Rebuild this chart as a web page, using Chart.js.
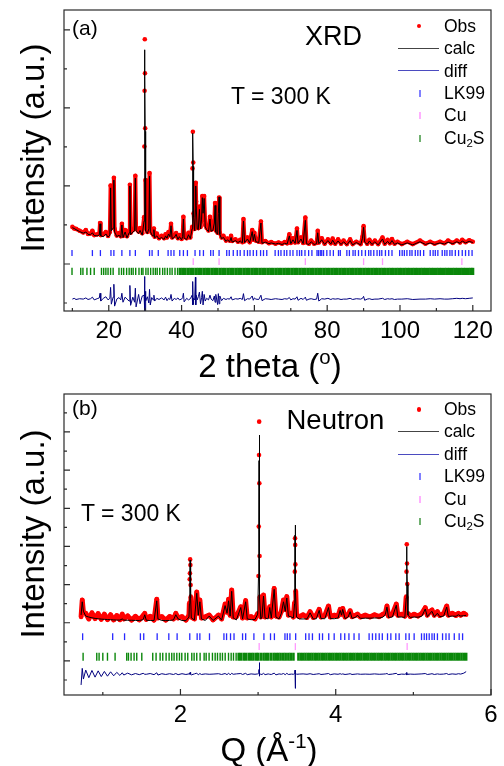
<!DOCTYPE html>
<html lang="en">
<head>
<meta charset="UTF-8">
<title>LK99 - XRD and neutron refinement, T = 300 K</title>
<script src="https://cdn.jsdelivr.net/npm/chart.js"></script>
<style>
  body { margin: 0; background: #fff; }
  #painel { position: relative; width: 504px; height: 766px; overflow: hidden;
    font-family: Arial, "Liberation Sans", sans-serif; color: #000; }
  #painel canvas { position: absolute; left: 0; }
  .t { position: absolute; line-height: 1; white-space: nowrap; }
  .eixo { font-size: 33px; }
  .centro { transform: translateX(-50%); }
  .rot { transform: translate(-50%, -50%) rotate(-90deg); }
  .leg { position: absolute; left: 398px; width: 104px; height: 18px; font-size: 17.5px; line-height: 1; white-space: nowrap; }
  .leg .lbl { position: absolute; left: 46px; top: 0; }
  .sym { position: absolute; display: block; }
  .ponto { left: 19px; top: 6.3px; width: 4.4px; height: 4.4px; border-radius: 50%; background-color: #f00; }
  .linha { left: 0; top: 7.9px; width: 41px; height: 0; border-top: 1.2px solid; }
  .risco { left: 21px; top: 5px; width: 1.5px; height: 7px; }
  sub { font-size: 0.65em; vertical-align: -0.3em; line-height: 0; }
  sup { font-size: 0.62em; vertical-align: 0.62em; line-height: 0; }
</style>
</head>
<body>
<div id="painel">
  <canvas id="graficoXrd" width="504" height="380" style="top:0"></canvas>
  <canvas id="graficoNeutron" width="504" height="386" style="top:380px"></canvas>

  <!-- painel (a) -->
  <div class="t" style="left:72px; top:17px; font-size:21px">(a)</div>
  <div class="t" style="left:305px; top:23px; font-size:27px">XRD</div>
  <div class="t" style="left:231px; top:85px; font-size:23px">T = 300 K</div>
  <div class="t eixo rot" style="left:32px; top:147.5px">Intensity (a.u.)</div>
  <div class="t eixo centro" style="left:270px; top:348.5px">2 theta (<sup>o</sup>)</div>

  <div class="leg" style="top:17.7px"><span class="sym ponto"></span><span class="lbl">Obs</span></div>
  <div class="leg" style="top:40.1px"><span class="sym linha" style="border-color:#444"></span><span class="lbl">calc</span></div>
  <div class="leg" style="top:62.5px"><span class="sym linha" style="border-color:#4b4bc0"></span><span class="lbl">diff</span></div>
  <div class="leg" style="top:84.9px"><span class="sym risco" style="background-color:#8080ff"></span><span class="lbl">LK99</span></div>
  <div class="leg" style="top:107.3px"><span class="sym risco" style="background-color:#ffb0ff"></span><span class="lbl">Cu</span></div>
  <div class="leg" style="top:129.7px"><span class="sym risco" style="background-color:#70b070"></span><span class="lbl">Cu<sub>2</sub>S</span></div>

  <!-- painel (b) -->
  <div class="t" style="left:72px; top:397px; font-size:21px">(b)</div>
  <div class="t" style="left:286.5px; top:405.5px; font-size:27.5px">Neutron</div>
  <div class="t" style="left:81px; top:502px; font-size:23px">T = 300 K</div>
  <div class="t eixo rot" style="left:32px; top:533.5px">Intensity (a.u.)</div>
  <div class="t eixo centro" style="left:269px; top:732.5px">Q (Å<sup>-1</sup>)</div>

  <div class="leg" style="top:401px"><span class="sym ponto"></span><span class="lbl">Obs</span></div>
  <div class="leg" style="top:423.4px"><span class="sym linha" style="border-color:#444"></span><span class="lbl">calc</span></div>
  <div class="leg" style="top:445.8px"><span class="sym linha" style="border-color:#4b4bc0"></span><span class="lbl">diff</span></div>
  <div class="leg" style="top:468.2px"><span class="sym risco" style="background-color:#8080ff"></span><span class="lbl">LK99</span></div>
  <div class="leg" style="top:490.6px"><span class="sym risco" style="background-color:#ffb0ff"></span><span class="lbl">Cu</span></div>
  <div class="leg" style="top:513px"><span class="sym risco" style="background-color:#70b070"></span><span class="lbl">Cu<sub>2</sub>S</span></div>
</div>

<script>
  // ---- (a) XRD: 2 theta (deg), intensities in arbitrary offset units ----
  const xrdTheta = [
    10.0, 10.5, 11.0, 12.0, 13.0, 13.7, 14.3, 15.0, 15.5, 16.0,
    16.8, 17.4, 17.6, 17.8, 18.5, 19.2, 19.8, 20.3, 20.5, 20.7,
    21.2, 21.4, 21.6, 22.2, 22.8, 23.3, 23.6, 23.9, 24.5, 25.0,
    25.6, 25.8, 26.0, 26.6, 27.1, 27.3, 27.5, 28.2, 28.6, 29.2,
    29.7, 29.78, 29.84, 29.9, 29.95, 30.0, 30.06, 30.2, 30.6, 31.0,
    31.2, 31.4, 31.8, 32.2, 32.4, 32.6, 33.2, 33.8, 34.5, 35.2,
    35.6, 36.0, 36.4, 36.8, 37.1, 37.4, 38.0, 38.5, 39.0, 39.4,
    40.0, 40.3, 40.5, 40.7, 41.4, 41.9, 42.4, 42.9, 43.0, 43.1,
    43.2, 43.3, 43.6, 43.8, 43.9, 44.0, 44.3, 44.6, 44.9, 45.2,
    45.5, 45.7, 45.9, 46.2, 46.5, 46.9, 47.4, 47.8, 48.1, 48.6,
    49.0, 49.2, 49.4, 49.9, 50.1, 50.3, 50.5, 51.0, 51.5, 52.2,
    52.6, 53.2, 53.6, 53.9, 54.8, 55.5, 56.1, 56.7, 57.0, 57.3,
    58.1, 58.7, 59.4, 59.7, 60.0, 60.4, 61.2, 61.8, 62.1, 63.0,
    64.0, 64.6, 65.8, 66.6, 67.6, 68.3, 69.0, 69.6, 70.0, 70.6,
    71.2, 71.7, 72.0, 72.8, 73.4, 74.0, 74.3, 75.0, 75.6, 76.4,
    77.1, 77.4, 77.7, 78.5, 79.3, 80.2, 81.0, 81.5, 82.2, 83.0,
    83.8, 84.5, 85.4, 86.3, 87.0, 88.0, 89.2, 89.7, 90.0, 90.3,
    91.0, 91.6, 92.3, 93.1, 94.0, 95.2, 95.8, 96.6, 97.2, 97.8,
    98.5, 99.3, 100.5, 102.0, 103.5, 105.5, 107.0, 108.3, 109.5, 111.0,
    112.2, 113.2, 114.5, 115.6, 116.5, 117.1, 118.0, 119.0, 120.0
  ];
  const xrdObs = [
    1.95, 1.91, 1.90, 1.85, 1.81, 1.87, 1.77, 1.78, 1.85, 1.74,
    1.76, 1.78, 2.05, 1.74, 1.76, 1.82, 1.72, 1.82, 3.01, 1.95,
    2.02, 3.21, 1.90, 1.73, 1.79, 1.71, 2.03, 1.72, 1.87, 1.71,
    1.86, 3.03, 1.80, 1.87, 1.92, 3.26, 1.90, 1.83, 1.92, 1.79,
    2.20, 4.01, 5.44, 6.76, 5.89, 4.48, 3.15, 1.92, 1.82, 1.95,
    3.33, 1.90, 1.80, 1.75, 1.91, 1.70, 1.78, 1.66, 1.72, 1.66,
    1.76, 1.68, 1.82, 1.74, 2.03, 1.68, 1.72, 1.79, 1.66, 1.74,
    1.64, 1.74, 2.21, 1.70, 1.66, 1.80, 1.68, 1.95, 3.45, 4.39,
    3.60, 2.30, 1.90, 2.50, 3.08, 2.60, 1.95, 1.92, 2.47, 1.95,
    2.20, 2.74, 2.40, 2.74, 2.00, 1.92, 1.86, 2.21, 1.88, 1.90,
    2.10, 2.56, 1.86, 1.80, 2.20, 2.70, 1.80, 1.68, 1.72, 1.60,
    1.65, 1.60, 1.72, 1.59, 1.63, 1.57, 1.62, 1.56, 2.15, 1.58,
    1.68, 1.56, 1.87, 1.62, 1.80, 1.60, 1.57, 2.09, 1.56, 1.59,
    1.53, 1.56, 1.52, 1.55, 1.52, 1.56, 1.53, 1.76, 1.54, 1.66,
    1.55, 1.91, 1.56, 1.68, 1.54, 2.19, 1.55, 1.52, 1.60, 1.52,
    1.54, 1.85, 1.55, 1.66, 1.52, 1.63, 1.53, 1.65, 1.52, 1.63,
    1.52, 1.60, 1.51, 1.63, 1.51, 1.57, 1.51, 1.70, 1.97, 1.60,
    1.52, 1.62, 1.52, 1.60, 1.51, 1.68, 1.52, 1.62, 1.53, 1.64,
    1.52, 1.57, 1.51, 1.57, 1.51, 1.60, 1.52, 1.57, 1.52, 1.57,
    1.53, 1.60, 1.54, 1.60, 1.55, 1.62, 1.56, 1.61, 1.57
  ];
  const xrdCalc = [
    1.93, 1.91, 1.88, 1.83, 1.79, 1.82, 1.76, 1.75, 1.80, 1.73,
    1.72, 1.74, 2.03, 1.72, 1.70, 1.77, 1.69, 1.74, 2.95, 1.85,
    1.92, 3.15, 1.82, 1.70, 1.74, 1.68, 2.00, 1.68, 1.82, 1.67,
    1.80, 3.00, 1.75, 1.82, 1.85, 3.20, 1.85, 1.78, 1.86, 1.74,
    2.10, 3.90, 5.30, 6.49, 5.80, 4.40, 3.10, 1.85, 1.78, 1.90,
    3.25, 1.84, 1.75, 1.72, 1.88, 1.67, 1.72, 1.64, 1.68, 1.63,
    1.72, 1.66, 1.77, 1.70, 1.98, 1.65, 1.68, 1.76, 1.63, 1.70,
    1.62, 1.70, 2.15, 1.66, 1.63, 1.75, 1.65, 1.90, 3.40, 4.35,
    3.50, 2.20, 1.85, 2.40, 3.00, 2.50, 1.90, 1.88, 2.40, 1.90,
    2.15, 2.70, 2.30, 2.68, 1.95, 1.88, 1.83, 2.15, 1.84, 1.86,
    2.05, 2.50, 1.82, 1.76, 2.30, 2.72, 1.76, 1.65, 1.68, 1.58,
    1.62, 1.57, 1.68, 1.56, 1.60, 1.55, 1.59, 1.54, 2.10, 1.55,
    1.64, 1.54, 1.83, 1.60, 1.76, 1.57, 1.55, 2.05, 1.53, 1.56,
    1.52, 1.54, 1.51, 1.53, 1.50, 1.53, 1.51, 1.72, 1.52, 1.62,
    1.53, 1.86, 1.53, 1.64, 1.52, 2.12, 1.52, 1.50, 1.57, 1.50,
    1.52, 1.80, 1.52, 1.62, 1.50, 1.60, 1.51, 1.61, 1.50, 1.59,
    1.50, 1.57, 1.49, 1.60, 1.49, 1.55, 1.49, 1.66, 1.94, 1.56,
    1.50, 1.59, 1.50, 1.57, 1.49, 1.64, 1.50, 1.58, 1.51, 1.60,
    1.50, 1.54, 1.49, 1.54, 1.49, 1.57, 1.50, 1.54, 1.50, 1.54,
    1.51, 1.56, 1.52, 1.57, 1.53, 1.59, 1.54, 1.58, 1.55
  ];
  const xrdDiff = [
    0.10, 0.12, 0.09, 0.11, 0.10, 0.13, 0.09, 0.11, 0.15, 0.08,
    0.11, 0.13, 0.25, 0.05, 0.12, 0.16, 0.08, 0.12, 0.40, -0.03,
    0.15, 0.48, -0.08, 0.10, 0.14, 0.08, 0.25, 0.02, 0.15, 0.10,
    0.05, 0.45, -0.06, 0.15, 0.02, 0.38, -0.10, 0.22, -0.02, 0.18,
    0.20, -0.10, 0.40, 0.68, -0.20, -0.25, 0.30, 0.05, 0.16, 0.00,
    0.35, -0.05, 0.14, 0.08, 0.20, 0.05, 0.12, 0.09, 0.13, 0.08,
    0.15, 0.06, 0.12, 0.09, 0.22, 0.05, 0.12, 0.09, 0.13, 0.08,
    0.10, 0.14, 0.25, 0.03, 0.12, 0.08, 0.11, 0.20, -0.05, 0.55,
    -0.04, 0.12, 0.08, 0.66, -0.05, 0.20, 0.08, 0.16, 0.28, -0.02,
    0.14, 0.30, -0.05, 0.22, 0.05, 0.12, 0.08, 0.20, 0.10, 0.06,
    0.18, 0.02, 0.22, -0.04, 0.24, -0.02, 0.18, 0.06, 0.12, 0.09,
    0.11, 0.10, 0.16, 0.08, 0.11, 0.10, 0.12, 0.09, 0.24, 0.06,
    0.11, 0.10, 0.18, 0.07, 0.13, 0.10, 0.09, 0.20, 0.06, 0.11,
    0.10, 0.09, 0.11, 0.10, 0.09, 0.11, 0.10, 0.14, 0.08, 0.11,
    0.10, 0.16, 0.07, 0.12, 0.09, 0.15, 0.07, 0.10, 0.11, 0.09,
    0.10, 0.25, 0.05, 0.11, 0.10, 0.12, 0.09, 0.11, 0.10, 0.11,
    0.09, 0.10, 0.10, 0.12, 0.09, 0.11, 0.10, 0.12, 0.17, 0.07,
    0.10, 0.11, 0.09, 0.10, 0.10, 0.12, 0.09, 0.11, 0.10, 0.11,
    0.09, 0.10, 0.10, 0.11, 0.09, 0.10, 0.10, 0.11, 0.10, 0.11,
    0.10, 0.10, 0.11, 0.12, 0.11, 0.12, 0.11, 0.12, 0.13
  ];
  // reflection markers (2 theta)
  const xrdLk99 = [
    9.9, 15.5, 17.7, 20.6, 21.4, 23.6, 25.8, 27.3, 31.2, 31.9, 33.6, 36.3, 37.1, 37.9, 39.5,
    40.5, 41.6, 43.7, 45.0, 46.0, 48.0, 48.7, 50.3, 52.4, 53.1, 54.2, 55.3, 56.1, 57.2, 58.1,
    58.8, 59.7, 60.6, 61.7, 62.5, 63.4, 65.7, 66.6, 67.3, 68.2, 68.9, 69.8, 70.6, 71.7, 72.4,
    73.0, 73.9, 74.9, 75.8, 77.2, 77.6, 78.1, 78.5, 79.0, 79.9, 80.8, 81.7, 83.1, 83.6, 85.4,
    86.1, 87.1, 87.7, 88.6, 89.5, 90.5, 91.4, 92.0, 92.8, 93.7, 94.4, 95.0, 96.0, 96.9, 97.8,
    99.9, 100.6, 101.2, 101.9, 102.7, 103.3, 104.2, 104.9, 105.6, 106.5, 108.3, 109.1, 109.7,
    110.4, 111.6, 112.3, 112.9, 113.7, 114.3, 115.2, 116.1, 117.1, 118.0, 118.9, 119.8
  ];
  const xrdCu = [43.2, 50.3, 74.0, 90.0, 95.2, 117.0];
  const xrdCu2s = [
    9.9, 12.3, 12.9, 14.0, 15.0, 16.0, 18.0, 18.6, 19.2, 19.8, 20.5, 21.2, 22.8, 23.5, 24.1,
    24.9, 25.6, 26.2, 26.7, 27.4, 28.3, 29.0, 29.4, 30.2, 30.8, 31.5, 32.2, 32.8, 33.3, 34.0,
    34.8, 35.4, 36.1, 36.8, 37.4, 38.2, 38.9,
    39.6, 40.3, 41.0, 41.8, 42.5, 43.2, 44.0, 44.7, 45.4, 46.2, 46.9, 47.6, 48.4, 49.1, 49.8,
    50.6, 51.3, 52.0, 52.8, 53.5, 54.2, 55.0, 55.7, 56.4, 57.2, 57.9, 58.6, 59.4, 60.1, 60.8,
    61.6, 62.3, 63.0, 63.8, 64.5, 65.2, 66.0, 66.7, 67.4, 68.2, 68.9, 69.6, 70.4, 71.1, 71.8,
    72.6, 73.3, 74.0, 74.8, 75.5, 76.2, 77.0, 77.7, 78.4, 79.2, 79.9, 80.6, 81.4, 82.1, 82.8,
    83.6, 84.3, 85.0, 85.8, 86.5, 87.2, 88.0, 88.7, 89.4, 90.2, 90.9, 91.6, 92.4, 93.1, 93.8,
    94.6, 95.3, 96.0, 96.8, 97.5, 98.2, 99.0, 99.7, 100.4, 101.2, 101.9, 102.6, 103.4, 104.1,
    104.8, 105.6, 106.3, 107.0, 107.8, 108.5, 109.2, 110.0, 110.7, 111.4, 112.2, 112.9, 113.6,
    114.4, 115.1, 115.8, 116.6, 117.3, 118.0, 118.8, 119.5, 120.0
  ];
  const xrdTicks = [10, 20, 30, 40, 50, 60, 70, 80, 90, 100, 110, 120];
  const xrdTickLabels = [20, 40, 60, 80, 100, 120];
  const xrdYTicks = [0, 1, 2, 3, 4, 5, 6, 7];

  // ---- (b) Neutron: Q (1/A) ----
  const neuQ = [
    0.72, 0.735, 0.75, 0.78, 0.82, 0.86, 0.90, 0.94, 0.98, 1.02,
    1.06, 1.10, 1.14, 1.18, 1.22, 1.25, 1.27, 1.32, 1.37, 1.42,
    1.47, 1.52, 1.54, 1.56, 1.61, 1.66, 1.695, 1.71, 1.76, 1.81,
    1.86, 1.91, 1.94, 1.97, 2.02, 2.07, 2.11, 2.115, 2.119, 2.122,
    2.125, 2.128, 2.131, 2.134, 2.14, 2.18, 2.21, 2.23, 2.25, 2.27,
    2.32, 2.37, 2.42, 2.49, 2.53, 2.575, 2.60, 2.62, 2.64, 2.66,
    2.68, 2.72, 2.777, 2.80, 2.84, 2.86, 2.91, 2.96, 2.995, 3.005,
    3.009, 3.012, 3.014, 3.016, 3.019, 3.024, 3.035, 3.05, 3.07, 3.09,
    3.13, 3.15, 3.17, 3.207, 3.23, 3.27, 3.30, 3.327, 3.35, 3.37,
    3.39, 3.43, 3.455, 3.470, 3.473, 3.476, 3.478, 3.480, 3.484, 3.495,
    3.53, 3.58, 3.63, 3.67, 3.71, 3.75, 3.787, 3.81, 3.86, 3.907,
    3.93, 3.98, 4.03, 4.057, 4.075, 4.09, 4.12, 4.16, 4.186, 4.21,
    4.26, 4.28, 4.32, 4.38, 4.44, 4.50, 4.56, 4.61, 4.64, 4.66,
    4.68, 4.73, 4.78, 4.80, 4.85, 4.89, 4.908, 4.912, 4.915, 4.918,
    4.922, 4.93, 4.96, 5.01, 5.06, 5.11, 5.153, 5.18, 5.215, 5.24,
    5.27, 5.31, 5.34, 5.39, 5.43, 5.45, 5.50, 5.55, 5.58, 5.61,
    5.65, 5.68
  ];
  const neuObs = [
    3.30, 4.19, 3.55, 3.50, 3.20, 3.52, 3.22, 3.48, 3.18, 3.45,
    3.17, 3.42, 3.15, 3.38, 3.16, 3.45, 3.20, 3.36, 3.14, 3.34,
    3.15, 3.38, 3.49, 3.18, 3.34, 3.14, 4.23, 3.25, 3.32, 3.14,
    3.33, 3.20, 3.49, 3.25, 3.32, 3.14, 3.40, 4.05, 5.28, 5.59,
    6.32, 6.03, 4.98, 4.37, 3.30, 3.20, 4.61, 3.50, 4.19, 3.25,
    3.31, 3.40, 3.15, 3.40, 3.20, 3.98, 3.55, 4.23, 3.40, 4.72,
    3.30, 3.32, 3.84, 3.25, 4.16, 3.25, 3.32, 3.20, 3.50, 5.45,
    8.04, 11.79, 13.54, 10.31, 6.50, 4.37, 3.30, 3.40, 4.45, 3.30,
    3.38, 3.84, 3.30, 4.80, 3.35, 3.30, 3.60, 4.19, 3.70, 4.37,
    3.40, 3.50, 3.30, 4.07, 5.68, 7.43, 7.08, 6.06, 4.68, 3.40,
    3.32, 3.42, 3.28, 3.58, 3.28, 3.40, 3.70, 3.30, 3.38, 3.88,
    3.30, 3.40, 3.35, 3.70, 3.45, 3.75, 3.30, 3.42, 3.63, 3.32,
    3.40, 3.45, 3.30, 3.40, 3.30, 3.42, 3.32, 3.45, 3.50, 3.88,
    3.35, 3.45, 3.98, 3.40, 3.45, 3.35, 4.37, 5.68, 7.11, 6.11,
    5.03, 3.50, 3.33, 3.45, 3.35, 3.50, 3.79, 3.40, 3.60, 3.67,
    3.40, 3.58, 3.38, 3.48, 3.88, 3.40, 3.50, 3.38, 3.49, 3.40,
    3.50, 3.42
  ];
  const neuCalc = [
    3.41, 4.10, 3.60, 3.35, 3.30, 3.26, 3.23, 3.21, 3.19, 3.18,
    3.17, 3.16, 3.15, 3.14, 3.14, 3.20, 3.14, 3.13, 3.13, 3.12,
    3.12, 3.16, 3.42, 3.13, 3.12, 3.12, 4.15, 3.20, 3.12, 3.11,
    3.12, 3.15, 3.42, 3.20, 3.12, 3.11, 3.30, 4.00, 5.20, 5.60,
    6.29, 6.00, 4.90, 4.30, 3.25, 3.15, 4.55, 3.40, 4.10, 3.20,
    3.12, 3.35, 3.12, 3.35, 3.14, 3.90, 3.50, 4.15, 3.35, 4.65,
    3.25, 3.15, 3.80, 3.20, 4.10, 3.20, 3.16, 3.17, 3.45, 5.40,
    8.00, 11.50, 12.84, 10.50, 6.60, 4.30, 3.20, 3.30, 4.40, 3.25,
    3.20, 3.80, 3.25, 4.75, 3.30, 3.20, 3.50, 4.10, 3.60, 4.30,
    3.35, 3.30, 3.25, 4.00, 5.60, 7.60, 8.12, 6.20, 4.60, 3.30,
    3.20, 3.20, 3.20, 3.52, 3.20, 3.21, 3.65, 3.22, 3.21, 3.80,
    3.22, 3.21, 3.25, 3.65, 3.40, 3.70, 3.22, 3.30, 3.58, 3.23,
    3.30, 3.40, 3.23, 3.24, 3.24, 3.25, 3.25, 3.30, 3.45, 3.82,
    3.28, 3.30, 3.92, 3.30, 3.30, 3.28, 4.30, 5.60, 6.99, 6.20,
    5.00, 3.40, 3.28, 3.30, 3.29, 3.35, 3.72, 3.32, 3.50, 3.60,
    3.32, 3.50, 3.32, 3.35, 3.82, 3.33, 3.35, 3.34, 3.42, 3.35,
    3.37, 3.39
  ];
  const neuDiff = [
    -0.26, 0.61, 0.05, 0.52, 0.12, 0.50, 0.15, 0.48, 0.18, 0.45,
    0.20, 0.43, 0.22, 0.40, 0.24, 0.38, 0.26, 0.36, 0.27, 0.34,
    0.28, 0.35, 0.30, 0.30, 0.34, 0.28, 0.38, 0.26, 0.33, 0.29,
    0.33, 0.29, 0.34, 0.28, 0.33, 0.29, 0.32, 0.34, 0.36, 0.30,
    0.40, 0.33, 0.36, 0.30, 0.27, 0.32, 0.36, 0.27, 0.34, 0.29,
    0.32, 0.30, 0.31, 0.33, 0.29, 0.34, 0.28, 0.36, 0.27, 0.35,
    0.30, 0.32, 0.34, 0.29, 0.35, 0.28, 0.32, 0.30, 0.32, 0.35,
    0.40, 0.55, 0.91, 0.20, 0.28, 0.33, 0.30, 0.29, 0.35, 0.28,
    0.32, 0.30, 0.29, 0.36, 0.27, 0.32, 0.30, 0.34, 0.28, 0.35,
    0.29, 0.31, 0.30, 0.33, 0.40, 0.52, -0.44, 0.25, 0.36, 0.30,
    0.31, 0.32, 0.30, 0.33, 0.29, 0.31, 0.33, 0.29, 0.31, 0.34,
    0.28, 0.32, 0.30, 0.33, 0.30, 0.32, 0.29, 0.31, 0.33, 0.29,
    0.31, 0.32, 0.30, 0.31, 0.30, 0.32, 0.30, 0.31, 0.32, 0.34,
    0.29, 0.31, 0.35, 0.28, 0.31, 0.30, 0.33, 0.36, 0.40, 0.26,
    0.32, 0.30, 0.31, 0.30, 0.31, 0.32, 0.34, 0.29, 0.31, 0.33,
    0.29, 0.32, 0.30, 0.31, 0.34, 0.29, 0.32, 0.30, 0.33, 0.31,
    0.36, 0.44
  ];
  const neuLk99 = [
    0.74, 1.127, 1.28, 1.484, 1.527, 1.70, 1.85, 1.957, 2.12, 2.215, 2.25, 2.374, 2.56, 2.594,
    2.645, 2.69, 2.80, 2.84, 2.946, 3.075, 3.16, 3.21, 3.346, 3.376, 3.41, 3.484, 3.613, 3.656,
    3.70, 3.79, 3.83, 3.91, 3.98, 4.065, 4.116, 4.17, 4.236, 4.30, 4.43, 4.473, 4.516, 4.56,
    4.60, 4.667, 4.71, 4.774, 4.817, 4.903, 4.946, 5.01, 5.105, 5.14, 5.17, 5.204, 5.24, 5.27,
    5.31, 5.376, 5.42, 5.46, 5.527, 5.59, 5.634
  ];
  const neuCu = [3.014, 3.48, 4.92];
  const neuCu2s = [
    0.746, 0.922, 0.952, 1.0, 1.06, 1.158, 1.308, 1.33, 1.364, 1.403, 1.437, 1.502, 1.643,
    1.686, 1.738, 1.772, 1.815, 1.854, 1.888, 1.918, 1.953, 1.987, 2.017, 2.06, 2.094, 2.146,
    2.176, 2.21, 2.253, 2.305, 2.331, 2.369, 2.412, 2.447, 2.477, 2.511, 2.541, 2.576, 2.619,
    2.653, 2.683, 2.717,
    2.75, 2.78, 2.815, 2.845, 2.88, 2.91, 2.94, 2.975, 3.0, 3.035, 3.07, 3.1, 3.13, 3.165, 3.2,
    3.23, 3.26, 3.29, 3.325, 3.355, 3.39, 3.42, 3.455,
    3.52, 3.55, 3.58, 3.61, 3.64, 3.67, 3.70, 3.73, 3.76, 3.79, 3.82, 3.85, 3.88, 3.91, 3.94,
    3.97, 4.0, 4.03, 4.06, 4.09, 4.12, 4.15, 4.18, 4.21, 4.24, 4.27, 4.30, 4.33, 4.36, 4.39,
    4.42, 4.45, 4.48, 4.51, 4.54, 4.57, 4.6, 4.63, 4.66, 4.69, 4.72, 4.75, 4.78, 4.81, 4.84,
    4.87, 4.9, 4.93, 4.96, 4.99, 5.02, 5.05, 5.08, 5.11, 5.14, 5.17, 5.2, 5.23, 5.26, 5.29,
    5.32, 5.35, 5.38, 5.41, 5.44, 5.47, 5.5, 5.53, 5.56, 5.59, 5.62, 5.65, 5.68
  ];
  const neuTicks = [1, 2, 3, 4, 5, 6];
  const neuTickLabels = [2, 4, 6];
  const neuYTicks = [0, 1, 2, 3, 4, 5, 6, 7, 8, 9, 10, 11, 12, 13, 14];

  const fonte = 'Arial, "Liberation Sans", sans-serif';
  const pts = (xs, ys) => xs.map((x, i) => ({ x, y: ys[i] }));
  const nivel = (xs, y) => xs.map(x => ({ x, y }));

  // moldura + ticks para dentro (maior nos rotulados / impares)
  function moldura(m) {
    return {
      id: 'moldura',
      afterDatasetsDraw(chart) {
        const { ctx, chartArea: a, scales: { x, y } } = chart;
        ctx.save();
        ctx.strokeStyle = '#2a2a2a';
        ctx.lineWidth = 1.2;
        ctx.beginPath();
        m.xTicks.forEach(v => {
          const px = x.getPixelForValue(v);
          const len = m.xLabels.includes(v) ? 6 : 3;
          ctx.moveTo(px, a.bottom);
          ctx.lineTo(px, a.bottom - len);
        });
        m.yTicks.forEach(v => {
          const py = y.getPixelForValue(v);
          const len = v % 2 === 1 ? 6 : 3;
          ctx.moveTo(a.left, py);
          ctx.lineTo(a.left + len, py);
        });
        ctx.stroke();
        ctx.strokeRect(a.left, a.top, a.right - a.left, a.bottom - a.top);
        ctx.restore();
      }
    };
  }

  function grafico(id, s) {
    return new Chart(document.getElementById(id), {
      type: 'line',
      data: {
        datasets: [
          { label: 'calc', data: pts(s.x, s.calc), borderColor: '#000', borderWidth: 1,
            borderJoinStyle: 'round', pointRadius: 0, order: 0 },
          { label: 'Obs', data: pts(s.x, s.obs), borderColor: '#ff0000', borderWidth: s.obsLarg,
            borderJoinStyle: 'round', pointRadius: 2.3, pointBackgroundColor: '#ff0000',
            pointBorderWidth: 0, order: 1,
            segment: { borderColor: c => Math.max(c.p0.parsed.y, c.p1.parsed.y) > s.corte ? 'rgba(0,0,0,0)' : undefined } },
          { label: 'diff', data: pts(s.x, s.diff), borderColor: '#00007f', borderWidth: 1,
            pointRadius: 0, order: 2 },
          { label: 'LK99', data: nivel(s.lk99, s.yLk), showLine: false, pointStyle: 'line',
            pointRotation: 90, pointRadius: s.rLk, pointBorderColor: '#2828ff', pointBorderWidth: 1.3, order: 3 },
          { label: 'Cu', data: nivel(s.cu, s.yCu), showLine: false, pointStyle: 'line',
            pointRotation: 90, pointRadius: s.rCu, pointBorderColor: '#ff99ff', pointBorderWidth: 1.3, order: 3 },
          { label: 'Cu2S', data: nivel(s.cu2s, s.yCu2s), showLine: false, pointStyle: 'line',
            pointRotation: 90, pointRadius: s.rCu2s, pointBorderColor: '#0a870a',
            pointBorderWidth: c => (c.raw && c.raw.x < s.cu2sDenso) ? 1.4 : s.cu2sLarg, order: 3 }
        ]
      },
      options: {
        responsive: false,
        animation: false,
        events: [],
        devicePixelRatio: 1,
        layout: { padding: s.pad },
        plugins: { legend: { display: false }, tooltip: { enabled: false } },
        scales: {
          x: {
            type: 'linear', min: s.xMin, max: s.xMax,
            afterBuildTicks: sc => { sc.ticks = s.xLabels.map(v => ({ value: v })); },
            afterFit: sc => { sc.height = s.xAltura; },
            grid: { display: false, drawTicks: false }, border: { display: false },
            ticks: { autoSkip: false, maxRotation: 0, padding: 6, color: '#000',
              font: { size: 24, family: fonte }, callback: v => String(v) }
          },
          y: {
            type: 'linear', min: s.yMin, max: s.yMax,
            afterFit: sc => { sc.width = 0; },
            grid: { display: false, drawTicks: false }, border: { display: false },
            ticks: { display: false }
          }
        }
      },
      plugins: [moldura({ xTicks: s.xTicks, xLabels: s.xLabels, yTicks: s.yTicks })]
    });
  }

  grafico('graficoXrd', {
    x: xrdTheta, obs: xrdObs, calc: xrdCalc, diff: xrdDiff,
    lk99: xrdLk99, cu: xrdCu, cu2s: xrdCu2s,
    yLk: 1.28, yCu: 1.06, yCu2s: 0.81, rLk: 3, rCu: 3.4, rCu2s: 3.6,
    cu2sDenso: 39.5, cu2sLarg: 3, corte: 3.4, obsLarg: 4,
    xMin: 7.7, xMax: 125, yMin: -0.205, yMax: 7.51,
    xTicks: xrdTicks, xLabels: xrdTickLabels, yTicks: xrdYTicks,
    xAltura: 69, pad: { left: 64, right: 13, top: 10, bottom: 0 }
  });

  grafico('graficoNeutron', {
    x: neuQ, obs: neuObs, calc: neuCalc, diff: neuDiff,
    lk99: neuLk99, cu: neuCu, cu2s: neuCu2s,
    yLk: 2.27, yCu: 1.75, yCu2s: 1.22, rLk: 3.4, rCu: 3.5, rCu2s: 4,
    cu2sDenso: 2.74, cu2sLarg: 2.6, corte: 4.9, obsLarg: 5,
    xMin: 0.5, xMax: 6.0, yMin: -0.786, yMax: 14.99,
    xTicks: neuTicks, xLabels: neuTickLabels, yTicks: neuYTicks,
    xAltura: 71, pad: { left: 64, right: 13, top: 14, bottom: 0 }
  });
</script>
</body>
</html>
